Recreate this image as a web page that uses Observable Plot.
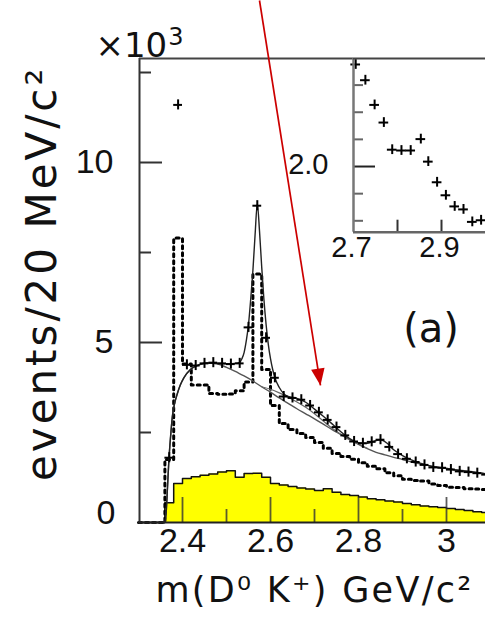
<!DOCTYPE html>
<html><head><meta charset="utf-8">
<script src="https://cdn.jsdelivr.net/npm/d3@7"></script>
<script src="https://cdn.jsdelivr.net/npm/@observablehq/plot@0.6"></script>
<style>
html,body{margin:0;padding:0;background:#fff;}
#wrap{position:relative;width:485px;height:620px;overflow:hidden;background:#fff;}
#wrap svg{position:absolute;}
</style></head><body><div id="wrap"></div>
<script>
// ---------- data (values in units of 10^3 events / 20 MeV) ----------
const binEdges = [2.30,2.32,2.34,2.36,2.38,2.40,2.42,2.44,2.46,2.48,2.50,2.52,2.54,2.56,2.58,2.60,2.62,2.64,2.66,2.68,2.70,2.72,2.74,2.76,2.78,2.80,2.82,2.84,2.86,2.88,2.90,2.92,2.94,2.96,2.98,3.00,3.02,3.04,3.06,3.08,3.10];
const dottedVals = [0,0,0,1.75,7.9,4.4,3.82,3.82,3.58,3.56,3.57,3.66,3.9,6.9,4.25,3.25,2.75,2.58,2.47,2.36,2.22,2.06,1.92,1.83,1.76,1.66,1.56,1.49,1.38,1.3,1.2,1.17,1.15,1.07,1.03,0.98,0.97,0.94,0.93,0.92];
const yellowVals = [0,0,0,0.55,1.08,1.22,1.27,1.31,1.35,1.40,1.44,1.26,1.36,1.37,1.26,1.08,1.04,1.0,0.96,0.93,0.89,0.94,0.84,0.78,0.75,0.71,0.66,0.63,0.6,0.57,0.53,0.49,0.46,0.44,0.42,0.39,0.36,0.33,0.30,0.28];

const dataX = [2.37,2.39,2.41,2.43,2.45,2.47,2.49,2.51,2.53,2.55,2.57,2.59,2.61,2.63,2.65,2.67,2.69,2.71,2.73,2.75,2.77,2.79,2.81,2.83,2.85,2.87,2.89,2.91,2.93,2.95,2.97,2.99,3.01,3.03,3.05,3.07,3.09];
const dataV = [1.8,11.6,4.38,4.36,4.42,4.44,4.42,4.4,4.42,5.42,8.8,5.13,4.02,3.5,3.46,3.41,3.25,3.06,2.85,2.65,2.42,2.25,2.2,2.24,2.3,2.1,1.9,1.77,1.68,1.6,1.53,1.52,1.47,1.42,1.4,1.37,1.33];
const dataErr = 0.14;
const binHalf = 0.01;

const bgX = [2.30,2.36,2.363,2.366,2.369,2.373,2.377,2.382,2.388,2.395,2.403,2.418,2.437,2.456,2.48,2.50,2.52,2.54,2.56,2.58,2.60,2.62,2.64,2.66,2.68,2.70,2.72,2.74,2.76,2.78,2.80,2.82,2.84,2.86,2.88,2.90,2.92,2.94,2.96,2.98,3.00,3.02,3.04,3.06,3.08,3.10];
const bgV = [0,0,0.3,1.0,1.72,2.4,2.95,3.3,3.57,3.82,4.02,4.25,4.38,4.43,4.40,4.31,4.2,4.07,3.93,3.77,3.62,3.46,3.31,3.16,3.02,2.88,2.73,2.58,2.44,2.3,2.17,2.05,1.95,1.88,1.81,1.75,1.68,1.63,1.58,1.54,1.5,1.47,1.44,1.41,1.37,1.33];

const fitX = [2.30,2.36,2.363,2.366,2.369,2.373,2.377,2.382,2.388,2.395,2.403,2.418,2.437,2.456,2.48,2.50,2.52,2.53,2.535,2.54,2.545,2.55,2.555,2.56,2.565,2.57,2.575,2.58,2.585,2.59,2.595,2.60,2.605,2.61,2.62,2.63,2.64,2.66,2.68,2.70,2.72,2.74,2.76,2.78,2.80,2.82,2.835,2.85,2.865,2.88,2.90,2.92,2.94,2.96,2.98,3.00,3.02,3.04,3.06,3.08,3.10];
const fitV = [0,0,0.3,1.0,1.72,2.4,2.95,3.3,3.57,3.82,4.02,4.25,4.38,4.43,4.42,4.41,4.42,4.45,4.55,4.72,5.05,5.5,6.2,7.0,8.0,8.85,8.1,7.1,6.2,5.5,4.95,4.55,4.25,4.02,3.75,3.58,3.5,3.45,3.34,3.15,2.95,2.74,2.52,2.33,2.22,2.2,2.26,2.3,2.2,2.02,1.86,1.74,1.65,1.58,1.53,1.5,1.46,1.43,1.4,1.37,1.34];

const midX = [2.58,2.60,2.62,2.64,2.66,2.68,2.70,2.72,2.74,2.76,2.78,2.80,2.82];
const midV = [3.77,3.7,3.6,3.48,3.35,3.2,3.02,2.82,2.62,2.45,2.3,2.18,2.06];

// inset (zoom of 2.7 - 3.0 region)
const insetX = [2.705,2.727,2.748,2.769,2.788,2.809,2.830,2.853,2.870,2.890,2.910,2.930,2.950,2.970,2.990];
const insetV = [2.376,2.318,2.227,2.162,2.062,2.059,2.059,2.101,2.018,1.942,1.894,1.853,1.842,1.796,1.802];
const insetErr = 0.018;
const insetHalf = 0.011;

// axes
const xDomain = [2.30227, 3.08864];
const yDomain = [0, 12.889];
const xMajor = [2.4, 2.6, 2.8, 3.0];
const xMinor = [2.5, 2.7, 2.9];
const xTickLabels = ["2.4", "2.6", "2.8", "3"];
const yMajor = [5, 10];
const yMinor = [2.5, 7.5, 12.5];
const yTickLabels = ["5", "10"];
const insetXDomain = [2.7, 3.0];
const insetYDomain = [1.758, 2.398];
const insetXTicks = [2.8, 2.9];
const insetXLabelVals = [2.7, 2.9];
const insetXLabels = ["2.7", "2.9"];
const insetYMajor = [2.0];
const insetYMinor = [1.8, 1.9, 2.1, 2.2, 2.3];

// annotations
const xLabel = "m(D\u2070 K\u207A) GeV/c\u00B2";
const yLabel = "events/20 MeV/c\u00B2";
const scaleLabel = "\u00D710";
const scaleExp = "3";
const panelLabel = {text: "(a)", x: 2.965, v: 5.37};
const arrow = {x1: 2.575, v1: 14.5, x2: 2.7136, v2: 3.806};

// ---------- build ----------
const steps = (edges, vals) => edges.map((x, i) => ({x, v: vals[Math.min(i, vals.length - 1)]}));
const dottedSteps = steps(binEdges, dottedVals);
const yellowSteps = steps(binEdges, yellowVals);
const data = dataX.map((x, i) => ({x, v: dataV[i]}));
const bg = bgX.map((x, i) => ({x, v: bgV[i]}));
const fit = fitX.map((x, i) => ({x, v: fitV[i]}));
const mid = midX.map((x, i) => ({x, v: midV[i]}));
const insetData = insetX.map((x, i) => ({x, v: insetV[i]}));

const W = 485, H = 620;
const M = {top: 58, left: 139, right: 0, bottom: 98};
const frameW = W - M.left - M.right, frameH = H - M.top - M.bottom;
const tickCol = "#333";

const main = Plot.plot({
  width: W, height: H,
  marginTop: M.top, marginLeft: M.left, marginRight: M.right, marginBottom: M.bottom,
  x: {domain: xDomain, axis: null},
  y: {domain: yDomain, axis: null},
  style: {background: "white"},
  marks: [
    Plot.areaY(yellowSteps, {x: "x", y: "v", curve: "step-after", fill: "#ffff00"}),
    Plot.line(yellowSteps, {x: "x", y: "v", curve: "step-after", stroke: "#111", strokeWidth: 1.5}),
    Plot.line(dottedSteps, {x: "x", y: "v", curve: "step-after", stroke: "#000", strokeWidth: 3, strokeDasharray: "3,4"}),
    Plot.line(bg, {x: "x", y: "v", curve: "monotone-x", stroke: "#555", strokeWidth: 1.4}),
    Plot.line(mid, {x: "x", y: "v", curve: "monotone-x", stroke: "#666", strokeWidth: 1.2}),
    Plot.line(fit, {x: "x", y: "v", curve: "monotone-x", stroke: "#222", strokeWidth: 1.4}),
    Plot.ruleX(data, {x: "x", y1: d => d.v - dataErr, y2: d => d.v + dataErr, stroke: "#000", strokeWidth: 2}),
    Plot.ruleY(data, {y: "v", x1: d => d.x - binHalf, x2: d => d.x + binHalf, stroke: "#000", strokeWidth: 2}),
    Plot.tickX(xMajor, {x: d => d, insetTop: frameH - 25, stroke: tickCol, strokeWidth: 1.8, strokeOpacity: 0.8}),
    Plot.tickX(xMinor, {x: d => d, insetTop: frameH - 13, stroke: tickCol, strokeWidth: 1.8, strokeOpacity: 0.8}),
    Plot.tickY(yMajor, {y: d => d, insetRight: frameW - 23, stroke: tickCol, strokeWidth: 2}),
    Plot.tickY(yMinor, {y: d => d, insetRight: frameW - 12, stroke: tickCol, strokeWidth: 2}),
    Plot.ruleX([xDomain[0]], {stroke: "#333", strokeWidth: 2}),
    Plot.ruleY([yDomain[1]], {stroke: "#444", strokeWidth: 2}),
    Plot.ruleY([0], {stroke: "#222", strokeWidth: 2}),
    Plot.text(xMajor, {x: d => d, text: (d, i) => xTickLabels[i], frameAnchor: "bottom", textAnchor: "middle", dy: 29,
      fontSize: 34, fontFamily: "Liberation Sans", fill: "#111"}),
    Plot.text(yMajor, {y: d => d, text: (d, i) => yTickLabels[i], frameAnchor: "left", textAnchor: "end", dx: -26,
      fontSize: 34, fontFamily: "Liberation Sans", fill: "#111"}),
    Plot.text(["0"], {y: () => 0, frameAnchor: "left", textAnchor: "end", dx: -24, dy: -9,
      fontSize: 34, fontFamily: "Liberation Sans", fill: "#111"}),
    Plot.text([scaleLabel], {frameAnchor: "top-left", textAnchor: "start", dx: -44, dy: -26,
      fontSize: 34, fontFamily: "DejaVu Sans", fill: "#111"}),
    Plot.text([xLabel], {x: () => 2.7, frameAnchor: "bottom", textAnchor: "middle", dy: 79,
      fontSize: 35, fontFamily: "DejaVu Sans", fill: "#111"}),
    Plot.text([yLabel], {y: () => 6.92, frameAnchor: "left", textAnchor: "middle", dx: -97, rotate: -90,
      fontSize: 42, fontFamily: "DejaVu Sans", fill: "#111"}),
    Plot.text([panelLabel], {x: "x", y: "v", text: "text", textAnchor: "middle", fontSize: 40, fontFamily: "DejaVu Sans", fill: "#111"})
  ]
});

for (const t of main.querySelectorAll("text")) {
  if (t.textContent === xLabel) t.setAttribute("letter-spacing", "2.3");
  if (t.textContent === yLabel) t.setAttribute("letter-spacing", "3.0");
  if (t.textContent === scaleLabel) {
    const sup = document.createElementNS("http://www.w3.org/2000/svg", "tspan");
    sup.setAttribute("dy", "-12");
    sup.setAttribute("dx", "1");
    sup.setAttribute("font-size", "24");
    sup.textContent = scaleExp;
    t.appendChild(sup);
  }
}

// inset
const IW = 205, IH = 217, IML = 73, IMB = 43.3;
const iFrameW = IW - IML, iFrameH = IH - IMB;
const inset = Plot.plot({
  width: IW, height: IH, marginLeft: IML, marginTop: 0, marginRight: 0, marginBottom: IMB,
  x: {domain: insetXDomain, axis: null},
  y: {domain: insetYDomain, axis: null},
  style: {background: "transparent"},
  marks: [
    Plot.frame({fill: "white", stroke: "none"}),
    Plot.ruleX(insetData, {x: "x", y1: d => d.v - insetErr, y2: d => d.v + insetErr, stroke: "#000", strokeWidth: 2}),
    Plot.ruleY(insetData, {y: "v", x1: d => d.x - insetHalf, x2: d => d.x + insetHalf, stroke: "#000", strokeWidth: 2}),
    Plot.tickY(insetYMajor, {y: d => d, insetRight: iFrameW - 22, stroke: "#222", strokeWidth: 2}),
    Plot.tickY(insetYMinor, {y: d => d, insetRight: iFrameW - 10, stroke: "#666", strokeWidth: 2}),
    Plot.tickX(insetXTicks, {x: d => d, insetTop: iFrameH - 12, stroke: "#333", strokeWidth: 2}),
    Plot.ruleX([insetXDomain[0]], {stroke: "#777", strokeWidth: 2.5}),
    Plot.ruleY([insetYDomain[0]], {stroke: "#666", strokeWidth: 2.5}),
    Plot.ruleY([insetYDomain[1]], {stroke: "#444", strokeWidth: 2}),
    Plot.text(insetXLabelVals, {x: d => d, text: (d, i) => insetXLabels[i], frameAnchor: "bottom", textAnchor: "middle", dy: 25, dx: -2,
      fontSize: 29, fontFamily: "Liberation Sans", fill: "#111"}),
    Plot.text(insetYMajor, {y: d => d, text: () => "2.0", frameAnchor: "left", textAnchor: "end", dx: -25, dy: -2,
      fontSize: 29, fontFamily: "Liberation Sans", fill: "#111"})
  ]
});

// red arrow overlay
const headSymbol = {draw(ctx) { ctx.moveTo(0, 0); ctx.lineTo(-6.8, 17); ctx.lineTo(6.8, 17); ctx.closePath(); }};
const overlay = Plot.plot({
  width: W, height: H,
  marginTop: M.top, marginLeft: M.left, marginRight: M.right, marginBottom: M.bottom,
  x: {domain: xDomain, axis: null},
  y: {domain: yDomain, axis: null},
  style: {background: "transparent"},
  marks: [
    Plot.link([arrow], {x1: "x1", y1: "v1", x2: "x2", y2: "v2", stroke: "#cc0000", strokeWidth: 1.7}),
    Plot.dot([arrow], {x: "x2", y: "v2", symbol: headSymbol, r: 5, rotate: 171, fill: "#cc0000", stroke: "none"})
  ]
});

const wrap = document.getElementById("wrap");
main.style.left = "0px"; main.style.top = "0px";
inset.style.left = "280px"; inset.style.top = "58px";
overlay.style.left = "0px"; overlay.style.top = "0px";
wrap.appendChild(main);
wrap.appendChild(inset);
wrap.appendChild(overlay);
</script></body></html>
